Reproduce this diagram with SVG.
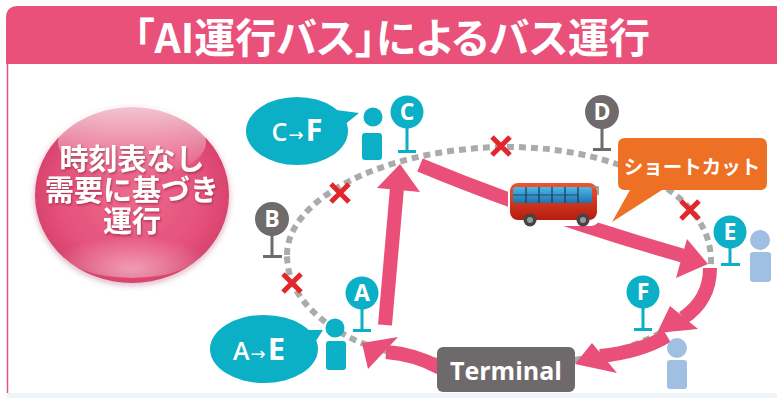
<svg xmlns="http://www.w3.org/2000/svg" width="777" height="398" viewBox="0 0 777 398">
  <defs>
    <style>
      .jp { font-family: "Noto Sans CJK JP", "Noto Sans", sans-serif; font-weight: 700; fill: #ffffff; }
      .title { font-feature-settings: "palt"; }
      .lat { font-family: "Open Sans", "Liberation Sans", sans-serif; font-weight: 700; fill: #ffffff; }
      .route { fill: none; stroke: #ABABAB; stroke-width: 6; stroke-dasharray: 7 5; }
      .cross { stroke: #E3262B; stroke-width: 5; stroke-linecap: butt; }
      .shaft { fill: none; stroke: #E94F78; stroke-width: 14; }
      .head { fill: #E94F78; }
      .teal { fill: #0BAFC6; }
      .grey { fill: #6F6B6C; }
      .pale { fill: #A0C0E3; }
      .stopLetter { font-family: "Open Sans", "Liberation Sans", sans-serif; font-weight: 700; font-size: 23px; fill: #ffffff; text-anchor: middle; }
    </style>
    <radialGradient id="sphereFill" cx="50%" cy="50%" r="55%">
      <stop offset="0" stop-color="#EE6A8D"/>
      <stop offset="0.72" stop-color="#E4507A"/>
      <stop offset="1" stop-color="#D13D66"/>
    </radialGradient>
    <linearGradient id="gloss" x1="0" y1="0" x2="0" y2="1">
      <stop offset="0" stop-color="#ffffff" stop-opacity="0.7"/>
      <stop offset="1" stop-color="#ffffff" stop-opacity="0"/>
    </linearGradient>
    <radialGradient id="glow" cx="50%" cy="85%" r="60%">
      <stop offset="0" stop-color="#ffffff" stop-opacity="0.45"/>
      <stop offset="1" stop-color="#ffffff" stop-opacity="0"/>
    </radialGradient>
    <linearGradient id="busBody" x1="0" y1="0" x2="0" y2="1">
      <stop offset="0" stop-color="#F0552F"/>
      <stop offset="1" stop-color="#B41C10"/>
    </linearGradient>
    <linearGradient id="busGlass" x1="0" y1="0" x2="0" y2="1">
      <stop offset="0" stop-color="#4FB8E6"/>
      <stop offset="1" stop-color="#1E74AE"/>
    </linearGradient>
    <filter id="soft" x="-20%" y="-20%" width="140%" height="140%">
      <feDropShadow dx="0" dy="2" stdDeviation="3" flood-color="#8a2040" flood-opacity="0.35"/>
    </filter>
    <filter id="txtShadow" x="-10%" y="-20%" width="120%" height="140%">
      <feDropShadow dx="1" dy="1.5" stdDeviation="1" flood-color="#7a1a38" flood-opacity="0.6"/>
    </filter>
  </defs>

  <!-- frame -->
  <rect x="0" y="0" width="777" height="398" fill="#ffffff"/>
  <path d="M6,64 V18 Q6,6 18,6 H777 V64 Z" fill="#E9517A"/>
  <line x1="7.5" y1="64" x2="7.5" y2="393" stroke="#E9517A" stroke-width="1.5"/>
  <rect x="7" y="393" width="770" height="5" fill="#EDF4FA"/>
  <text class="jp title" x="392" y="53" font-size="41" text-anchor="middle">「AI運行バス」によるバス運行</text>

  <!-- sphere badge -->
  <g id="badge">
    <ellipse cx="132" cy="195" rx="97" ry="88" fill="url(#sphereFill)" filter="url(#soft)"/>
    <ellipse cx="132" cy="142" rx="74" ry="36" fill="url(#gloss)"/>
    <ellipse cx="132" cy="250" rx="70" ry="28" fill="url(#glow)"/>
    <g class="jp" font-size="29" text-anchor="middle" filter="url(#txtShadow)">
      <text x="132" y="170">時刻表なし</text>
      <text x="132" y="201">需要に基づき</text>
      <text x="132" y="232">運行</text>
    </g>
  </g>

  <!-- connectors: route, closed stops, bus path -->
  <g id="connectors">
    <path class="route" d="M287,255 C287,200 380,150 500,147 C610,145 712,190 711,262 C710,320 640,352 560,362 C470,370 385,358 345,335 C305,312 287,285 287,255 Z"/>
    <g id="closed">
      <path class="cross" d="M331,184 L349,202 M349,184 L331,202"/>
      <path class="cross" d="M492,137 L510,155 M510,137 L492,155"/>
      <path class="cross" d="M681,201 L699,219 M699,201 L681,219"/>
      <path class="cross" d="M283,274 L301,292 M301,274 L283,292"/>
    </g>
    <!-- A to C -->
    <path class="shaft" d="M385,325 L397,188"/>
    <polygon class="head" points="400,164 377,188 420,192"/>
    <!-- C to E (shortcut) -->
    <path class="shaft" d="M420,165 Q540,215 684,256"/>
    <polygon class="head" points="708,264 687,239 676,278"/>
    <!-- E to F -->
    <path class="shaft" d="M710,268 Q710,300 683,318"/>
    <polygon class="head" points="657,333 670,306 698,329"/>
    <!-- F to Terminal -->
    <path class="shaft" d="M667,336 Q640,352 600,356"/>
    <polygon class="head" points="575,364 592,343 617,373"/>
    <!-- Terminal to A -->
    <path class="shaft" d="M440,368 Q415,354 386,352"/>
    <polygon class="head" points="362,343 398,337 368,369"/>
  </g>

  <!-- bus -->
  <g id="bus" transform="translate(510,183)">
    <rect x="-2" y="-2" width="92" height="45" rx="9" fill="#ffffff"/>
    <rect x="0" y="0" width="87" height="37" rx="8" fill="url(#busBody)"/>
    <rect x="3" y="4" width="79" height="16" rx="3" fill="url(#busGlass)"/>
    <g stroke="#1B3A55" stroke-width="1.2">
      <line x1="16" y1="4" x2="16" y2="20"/>
      <line x1="29" y1="4" x2="29" y2="20"/>
      <line x1="42" y1="4" x2="42" y2="20"/>
      <line x1="55" y1="4" x2="55" y2="20"/>
      <line x1="68" y1="4" x2="68" y2="20"/>
      <line x1="3" y1="12" x2="68" y2="12" stroke-width="0.8"/>
    </g>
    <path d="M82,4 L88,4 L88,12" fill="none" stroke="#888" stroke-width="1.5"/>
    <circle cx="20" cy="37" r="6.5" fill="#444"/>
    <circle cx="20" cy="37" r="3" fill="#999"/>
    <circle cx="73" cy="37" r="6.5" fill="#444"/>
    <circle cx="73" cy="37" r="3" fill="#999"/>
  </g>

  <!-- stops -->
  <g id="stopC">
    <circle class="teal" cx="407" cy="112" r="16.5"/>
    <rect class="teal" x="405.5" y="126" width="3" height="25"/>
    <rect class="teal" x="398" y="150" width="18" height="3"/>
    <text class="stopLetter" x="407" y="120">C</text>
  </g>
  <g id="stopD">
    <circle class="grey" cx="602" cy="112" r="17"/>
    <rect class="grey" x="600.5" y="126" width="3" height="23"/>
    <rect class="grey" x="593" y="148" width="18" height="3"/>
    <text class="stopLetter" x="602" y="120">D</text>
  </g>
  <g id="stopB">
    <circle class="grey" cx="272" cy="219" r="17"/>
    <rect class="grey" x="270.5" y="233" width="3" height="23"/>
    <rect class="grey" x="263" y="255" width="19" height="3"/>
    <text class="stopLetter" x="272" y="227">B</text>
  </g>
  <g id="stopE">
    <circle class="teal" cx="730" cy="232" r="16.5"/>
    <rect class="teal" x="728.5" y="246" width="3" height="18"/>
    <rect class="teal" x="721" y="263" width="19" height="3"/>
    <text class="stopLetter" x="730" y="240">E</text>
  </g>
  <g id="stopF">
    <circle class="teal" cx="643" cy="292" r="16.5"/>
    <rect class="teal" x="641.5" y="306" width="3" height="23"/>
    <rect class="teal" x="634" y="328" width="18" height="3"/>
    <text class="stopLetter" x="643" y="300">F</text>
  </g>
  <g id="stopA">
    <circle class="teal" cx="362" cy="293" r="16.5"/>
    <rect class="teal" x="360.5" y="307" width="3" height="23"/>
    <rect class="teal" x="353" y="329" width="18" height="3"/>
    <text class="stopLetter" x="362" y="301">A</text>
  </g>

  <!-- passengers -->
  <g id="riderC">
    <circle class="teal" cx="373" cy="117" r="9.5"/>
    <rect class="teal" x="362" y="133" width="20" height="27" rx="3"/>
  </g>
  <g id="riderA">
    <circle class="teal" cx="335" cy="328" r="9.5"/>
    <rect class="teal" x="326" y="341" width="20" height="29" rx="3"/>
  </g>
  <g id="waitE">
    <circle class="pale" cx="760" cy="240" r="10"/>
    <rect class="pale" x="750" y="252" width="21" height="30" rx="3"/>
  </g>
  <g id="waitF">
    <circle class="pale" cx="677" cy="348" r="10"/>
    <rect class="pale" x="667" y="360" width="20" height="29" rx="3"/>
  </g>

  <!-- trip requests -->
  <g id="requestCF">
    <ellipse class="teal" cx="297" cy="131" rx="51" ry="34"/>
    <path class="teal" d="M336,110 L359,113 L343,126 Z"/>
    <text class="lat" x="297" y="141" text-anchor="middle"><tspan font-size="25" font-weight="600">C</tspan><tspan font-family="DejaVu Sans" font-size="18" font-weight="400" dx="1">→</tspan><tspan font-size="31" dx="2">F</tspan></text>
  </g>
  <g id="requestAE">
    <ellipse class="teal" cx="264" cy="349" rx="54" ry="34"/>
    <path class="teal" d="M303,330 L323,330 L312,347 Z"/>
    <text class="lat" x="259" y="360" text-anchor="middle"><tspan font-size="25" font-weight="600">A</tspan><tspan font-family="DejaVu Sans" font-size="18" font-weight="400" dx="1">→</tspan><tspan font-size="31" dx="2">E</tspan></text>
  </g>

  <!-- shortcut callout -->
  <g id="shortcut">
    <path d="M625,138 H760 Q767,138 767,145 V183 Q767,190 760,190 H662 L612,222 L630,190 H625 Q618,190 618,183 V145 Q618,138 625,138 Z" fill="#EE7024"/>
    <text class="jp" x="692" y="174" font-size="19.5" text-anchor="middle">ショートカット</text>
  </g>

  <!-- terminal -->
  <g id="terminal">
    <rect x="437" y="347" width="138" height="45" rx="6" fill="#6E6A6B"/>
    <text class="lat" x="506" y="380" font-size="25" text-anchor="middle">Terminal</text>
  </g>
</svg>
